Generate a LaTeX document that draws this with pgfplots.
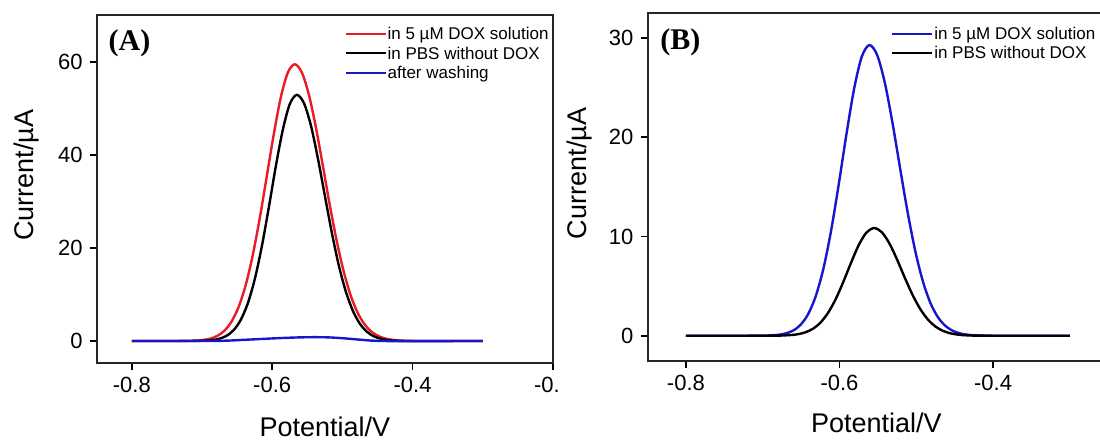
\documentclass[border=0pt]{standalone}
\usepackage{fontspec}
\setmainfont{Liberation Sans}
\newfontfamily\timesf{Liberation Serif}
\usepackage{pgfplots}
\pgfplotsset{compat=1.18}

\definecolor{cred}{RGB}{232,28,36}
\definecolor{cblue}{RGB}{22,22,205}

\pgfplotstableread{
x y
-0.800 0
-0.740 0
-0.708 0.09
-0.698 0.23
-0.688 0.52
-0.678 1.12
-0.668 2.23
-0.658 4.16
-0.648 7.27
-0.638 11.9
-0.628 18.25
-0.618 26.2
-0.608 35.2
-0.598 44.3
-0.588 52.3
-0.578 57.7
-0.568 59.6
-0.558 57.9
-0.548 53.2
-0.538 46.2
-0.528 37.9
-0.518 29.3
-0.508 21.5
-0.498 14.9
-0.488 9.71
-0.478 6.00
-0.468 3.50
-0.458 1.93
-0.448 1.01
-0.438 0.50
-0.428 0.23
-0.418 0.10
-0.408 0.04
-0.390 0
-0.300 0
}\Ared

\pgfplotstableread{
x y
-0.800 0
-0.720 0
-0.695 0.08
-0.685 0.20
-0.675 0.50
-0.665 1.12
-0.655 2.33
-0.645 4.49
-0.635 8.00
-0.625 13.2
-0.615 20.2
-0.605 28.6
-0.595 37.5
-0.585 45.4
-0.575 51.0
-0.565 53.0
-0.555 51.3
-0.545 46.5
-0.535 39.4
-0.525 31.3
-0.515 23.3
-0.505 16.2
-0.495 10.6
-0.485 6.47
-0.475 3.70
-0.465 1.98
-0.455 0.99
-0.445 0.47
-0.435 0.20
-0.425 0.08
-0.405 0
-0.300 0
}\Ablack

\pgfplotstableread{
x y
-0.800 0
-0.700 0
-0.680 0.02
-0.660 0.10
-0.640 0.25
-0.620 0.40
-0.600 0.55
-0.580 0.68
-0.560 0.78
-0.540 0.82
-0.520 0.78
-0.500 0.60
-0.480 0.35
-0.460 0.10
-0.440 0.00
-0.420 -0.05
-0.400 -0.03
-0.300 0
}\Ablue

\pgfplotstableread{
x y
-0.800 0
-0.720 0
-0.691 0.03
-0.681 0.08
-0.671 0.21
-0.661 0.49
-0.651 1.07
-0.641 2.15
-0.631 3.97
-0.621 6.74
-0.611 10.56
-0.601 15.25
-0.591 20.29
-0.581 24.88
-0.571 28.13
-0.561 29.3
-0.551 28.30
-0.541 25.51
-0.531 21.46
-0.521 16.84
-0.511 12.33
-0.501 8.42
-0.491 5.37
-0.481 3.19
-0.471 1.77
-0.461 0.92
-0.451 0.44
-0.441 0.20
-0.431 0.08
-0.421 0.03
-0.400 0
-0.300 0
}\Bblue

\pgfplotstableread{
x y
-0.800 0
-0.690 0
-0.665 0.06
-0.655 0.14
-0.645 0.33
-0.635 0.68
-0.625 1.30
-0.615 2.29
-0.605 3.68
-0.595 5.43
-0.585 7.35
-0.575 9.13
-0.565 10.39
-0.555 10.85
-0.545 10.44
-0.535 9.30
-0.525 7.67
-0.515 5.85
-0.505 4.14
-0.495 2.71
-0.485 1.64
-0.475 0.92
-0.465 0.48
-0.455 0.23
-0.445 0.10
-0.435 0.04
-0.410 0
-0.300 0
}\Bblack

\pgfplotsset{
  common/.style={
    scale only axis, anchor=south west,
    tick align=outside, xtick pos=bottom, ytick pos=left,
    major tick length=3.5pt,
    every tick/.style={black, line width=0.9pt},
    axis line style={line width=1pt, black!85},
    ticklabel style={font=\fontsize{11}{13}\selectfont},
    /pgf/number format/assume math mode=true,
    x tick label style={/pgf/number format/.cd, fixed, fixed zerofill, precision=1},
    label style={font=\fontsize{13.5}{15}\selectfont},
    legend style={draw=none, fill=none, inner sep=0pt, anchor=north west,
      font=\fontsize{8.5}{10.35}\selectfont,
      cells={anchor=west}, nodes={inner sep=0.5pt}, row sep=0pt},
    legend image code/.code={\draw[##1, line width=1.1pt] (0pt,0pt) -- (20pt,0pt);},
    legend cell align=left,
    every axis plot/.append style={line width=1.2pt, smooth, no markers},
  }
}

\begin{document}
\begin{tikzpicture}
\path[use as bounding box, clip] (0pt,0pt) rectangle (550pt,220.5pt);

% Panel A
\begin{axis}[common,
  at={(48.35pt,39pt)}, width=228.15pt, height=174pt,
  xmin=-0.85, xmax=-0.2, ymin=-4.74, ymax=70.2,
  xtick={-0.8,-0.6,-0.4,-0.2}, ytick={0,20,40,60},
  xlabel={Potential/V}, ylabel={Current/µA},
  xlabel style={at={(axis description cs:0.5,-0.2126)}, anchor=base},
  ylabel style={at={(axis description cs:-0.1374,0.540)}, anchor=base},
  legend style={at={(axis description cs:0.542,0.975)}},
]
\addplot[cred] table[x=x,y=y] {\Ared};
\addlegendentry{\strut in 5 µM DOX solution}
\addplot[black] table[x=x,y=y] {\Ablack};
\addlegendentry{\strut in PBS without DOX}
\addplot[cblue] table[x=x,y=y] {\Ablue};
\addlegendentry{\strut after washing}
\node[anchor=base west, font=\timesf\bfseries\fontsize{15}{17}\selectfont, inner sep=0pt]
  at (axis description cs:0.0254,0.899) {(A)};
\end{axis}

\fill[white] (280pt,0pt) rectangle (550pt,220.5pt);

% Panel B
\begin{axis}[common,
  at={(323.75pt,40.15pt)}, width=249.6pt, height=173.7pt,
  xmin=-0.85, xmax=-0.2, ymin=-2.52, ymax=32.5,
  xtick={-0.8,-0.6,-0.4}, ytick={0,10,20,30},
  xlabel={Potential/V}, ylabel={Current/µA},
  xlabel style={at={(axis description cs:0.4587,-0.208)}, anchor=base},
  ylabel style={at={(axis description cs:-0.1232,0.539)}, anchor=base},
  legend style={at={(axis description cs:0.4872,0.9704)}},
]
\addplot[cblue] table[x=x,y=y] {\Bblue};
\addlegendentry{\strut in 5 µM DOX solution}
\addplot[black] table[x=x,y=y] {\Bblack};
\addlegendentry{\strut in PBS without DOX}
\node[anchor=base west, font=\timesf\bfseries\fontsize{15}{17}\selectfont, inner sep=0pt]
  at (axis description cs:0.025,0.8944) {(B)};
\end{axis}
\end{tikzpicture}
\end{document}
